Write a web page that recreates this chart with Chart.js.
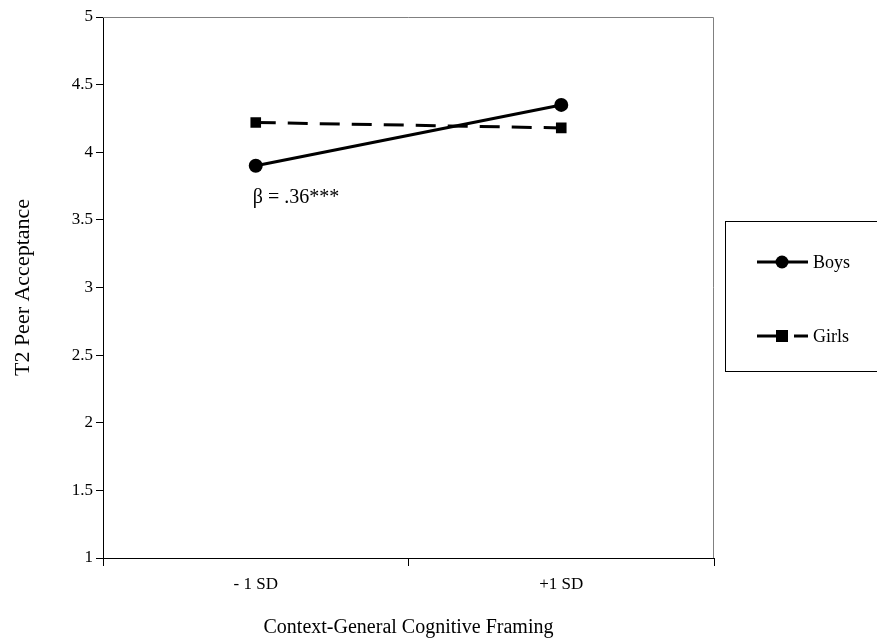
<!DOCTYPE html>
<html>
<head>
<meta charset="utf-8">
<script src="https://cdn.jsdelivr.net/npm/chart.js@4"></script>
<style>
  html, body { margin: 0; padding: 0; background: #fff; }
  #wrap { width: 877px; height: 644px; }
</style>
</head>
<body>
<div id="wrap"><canvas id="myChart" width="877" height="644"></canvas></div>
<script>
const categories = ['- 1 SD', '+1 SD'];
const boys = [3.90, 4.35];
const girls = [4.22, 4.18];
const yTicks = [1, 1.5, 2, 2.5, 3, 3.5, 4, 4.5, 5];
const note = 'β = .36***';
const FONT = '"Liberation Serif", "Times New Roman", serif';

// grey frame around the plot plus the text note under the boys line
const framePlugin = {
    id: 'frame',
    beforeDatasetsDraw(chart) {
        const a = chart.chartArea, c = chart.ctx;
        c.save();
        c.strokeStyle = '#808080';
        c.lineWidth = 1;
        c.beginPath();
        c.moveTo(a.left, a.top + 0.5);
        c.lineTo(a.right - 0.5, a.top + 0.5);
        c.lineTo(a.right - 0.5, a.bottom);
        c.stroke();
        c.restore();
    },
    afterDatasetsDraw(chart) {
        const c = chart.ctx;
        const x = chart.scales.x.getPixelForValue(0);
        const y = chart.scales.y.getPixelForValue(boys[0]);
        c.save();
        c.fillStyle = '#000';
        c.font = '20px ' + FONT;
        c.textBaseline = 'alphabetic';
        c.fillText(note, x - 3, y + 37);
        c.restore();
    }
};

// boxed legend on the right, like the original
const legendPlugin = {
    id: 'boxLegend',
    afterDraw(chart) {
        const c = chart.ctx;
        c.save();
        c.strokeStyle = '#000';
        c.lineWidth = 1;
        c.strokeRect(725.5, 221.5, 160, 150);
        const rows = [262, 336];
        chart.data.datasets.forEach((ds, i) => {
            const y = rows[i];
            c.strokeStyle = '#000';
            c.lineWidth = 3;
            c.beginPath();
            if (ds.borderDash) {
                c.moveTo(757, y); c.lineTo(781, y);
                c.moveTo(794, y); c.lineTo(808, y);
            } else {
                c.moveTo(757, y); c.lineTo(808, y);
            }
            c.stroke();
            c.fillStyle = '#000';
            if (ds.pointStyle === 'rect') {
                c.fillRect(776, y - 6, 12, 12);
            } else {
                c.beginPath();
                c.arc(782, y, 6.5, 0, Math.PI * 2);
                c.fill();
            }
            c.font = '18px ' + FONT;
            c.textBaseline = 'middle';
            c.fillText(ds.label, 813, y + 1);
        });
        c.restore();
    }
};

const ctx = document.getElementById('myChart').getContext('2d');
new Chart(ctx, {
    type: 'line',
    data: {
        labels: categories,
        datasets: [{
            label: 'Boys',
            data: boys,
            borderColor: '#000',
            backgroundColor: '#000',
            borderWidth: 3,
            pointStyle: 'circle',
            pointRadius: 7,
            pointBorderWidth: 0,
            tension: 0
        }, {
            label: 'Girls',
            data: girls,
            borderColor: '#000',
            backgroundColor: '#000',
            borderWidth: 3,
            borderDash: [20, 12],
            pointStyle: 'rect',
            pointRadius: 7.5,
            pointBorderWidth: 0,
            tension: 0
        }]
    },
    options: {
        responsive: false,
        animation: false,
        layout: { padding: { top: 17, right: 163, left: 0, bottom: 0 } },
        plugins: { legend: { display: false }, tooltip: { enabled: false } },
        scales: {
            x: {
                type: 'category',
                offset: true,
                afterFit(scale) { scale.height = 86; },
                grid: { drawOnChartArea: false, offset: true, tickLength: 8, color: '#000' },
                border: { color: '#000', width: 1 },
                ticks: { color: '#000', font: { family: FONT, size: 17 }, padding: 8 },
                title: { display: true, text: 'Context-General Cognitive Framing', color: '#000', font: { family: FONT, size: 20 }, padding: { top: 6 } }
            },
            y: {
                min: 1,
                max: 5,
                afterFit(scale) { scale.width = 103; },
                afterBuildTicks(scale) { scale.ticks = yTicks.map(v => ({ value: v })); },
                grid: { drawOnChartArea: false, tickLength: 7, color: '#000' },
                border: { color: '#000', width: 1 },
                ticks: {
                    color: '#000',
                    font: { family: FONT, size: 17 },
                    padding: 3,
                    callback: v => String(v)
                },
                title: { display: true, text: 'T2 Peer Acceptance', color: '#000', font: { family: FONT, size: 22 }, padding: { top: 10, bottom: 0 } }
            }
        }
    },
    plugins: [framePlugin, legendPlugin]
});
</script>
</body>
</html>
